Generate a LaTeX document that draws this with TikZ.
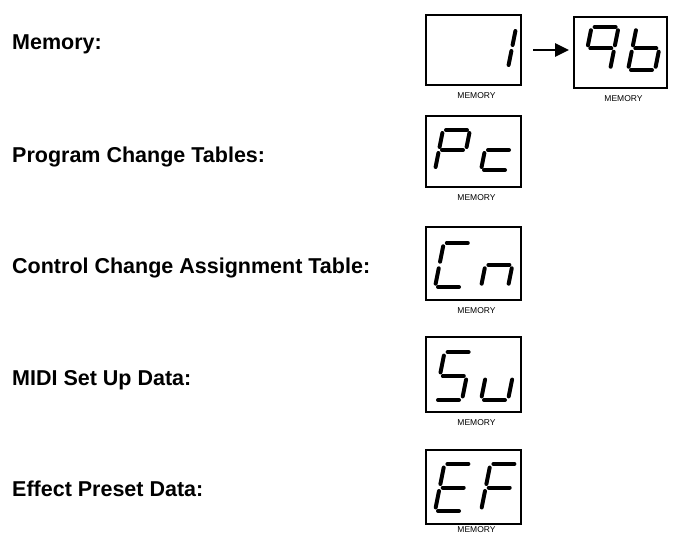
\documentclass[tikz,border=0pt]{standalone}
\usepackage{fontspec}
\setmainfont{Liberation Sans}
\usetikzlibrary{arrows.meta}
\tikzset{
  lcdbox/.style={draw, line width=2pt, inner sep=0pt},
  seg/.style={line width=4pt, line cap=round},
  lbl/.style={anchor=base west, inner sep=0pt, font=\fontsize{21.5}{24}\selectfont\bfseries},
  memlbl/.style={inner sep=0pt, font=\fontsize{8.5}{10}\selectfont},
  arr/.style={line width=2.6pt, -{Triangle[length=14pt,width=13pt]}}
}
\newcommand\sgA{\draw[seg] (3,40) -- (24,40);}
\newcommand\sgB{\draw[seg] (27,37) -- (27,23);}
\newcommand\sgC{\draw[seg] (27,17) -- (27,3);}
\newcommand\sgD{\draw[seg] (3,0) -- (24,0);}
\newcommand\sgE{\draw[seg] (0,3) -- (0,17);}
\newcommand\sgF{\draw[seg] (0,23) -- (0,37);}
\newcommand\sgG{\draw[seg] (3,20) -- (24,20);}
% #1 x of bottom-left, #2 y (pixel, down) of bottom, #3 digit height, #4 segments
\newcommand\sevseg[4]{%
  \begin{scope}[shift={(#1,#2)}]
  \begin{scope}[x=1pt, y=#3pt/40, xslant=0.2]
  \foreach \s in {#4}{\csname sg\s\endcsname}
  \end{scope}
  \end{scope}}
\begin{document}
\begin{tikzpicture}[x=1pt, y=-1pt]
\useasboundingbox (0,0) rectangle (679,534);

% left labels
\node[lbl] (l1) at (12,50) {Memory:};
\node[lbl] (l2) at (12,163) {Program Change Tables:};
\node[lbl] (l3) at (12,273) {Control Change Assignment Table:};
\node[lbl] (l4) at (12,385) {MIDI Set Up Data:};
\node[lbl] (l5) at (12,496) {Effect Preset Data:};

% boxes
\node[lcdbox, minimum width=95pt, minimum height=70pt] (b1) at (473.5,50) {};
\node[lcdbox, minimum width=93pt, minimum height=71pt] (b2) at (620.5,52.5) {};
\node[lcdbox, minimum width=95pt, minimum height=71pt] (pc) at (473.5,151.5) {};
\node[lcdbox, minimum width=95pt, minimum height=73pt] (cn) at (473.5,263.5) {};
\node[lcdbox, minimum width=95pt, minimum height=75pt] (su) at (473.5,374.5) {};
\node[lcdbox, minimum width=95pt, minimum height=74pt] (ef) at (473.5,486.5) {};

% MEMORY captions
\foreach \b in {b1,b2,pc,cn,su}{
  \node[memlbl, anchor=north] (m\b) at ([xshift=3pt,yshift=-6pt]\b.south) {MEMORY};
}
\node[memlbl, anchor=north] (mef) at ([xshift=3pt,yshift=-2pt]ef.south) {MEMORY};

% arrow
\draw[arr, shorten <=11pt, shorten >=4pt] (b1.east) -- (b1.east -| b2.west);

% digits
\sevseg{481}{68}{40}{B,C}
\sevseg{583}{70}{43}{A,B,C,F,G}
\sevseg{628}{70}{43}{C,D,E,F,G}
\sevseg{435}{170}{40}{A,B,E,F,G}
\sevseg{481}{170}{40}{D,E,G}
\sevseg{435}{287}{44}{A,D,E,F}
\sevseg{481}{287}{44}{C,E,G}
\sevseg{435}{400}{48}{A,F,G,C,D}
\sevseg{481}{400}{48}{C,D,E}
\sevseg{435}{511}{47}{A,D,E,F,G}
\sevseg{481}{511}{47}{A,E,F,G}
\end{tikzpicture}
\end{document}
